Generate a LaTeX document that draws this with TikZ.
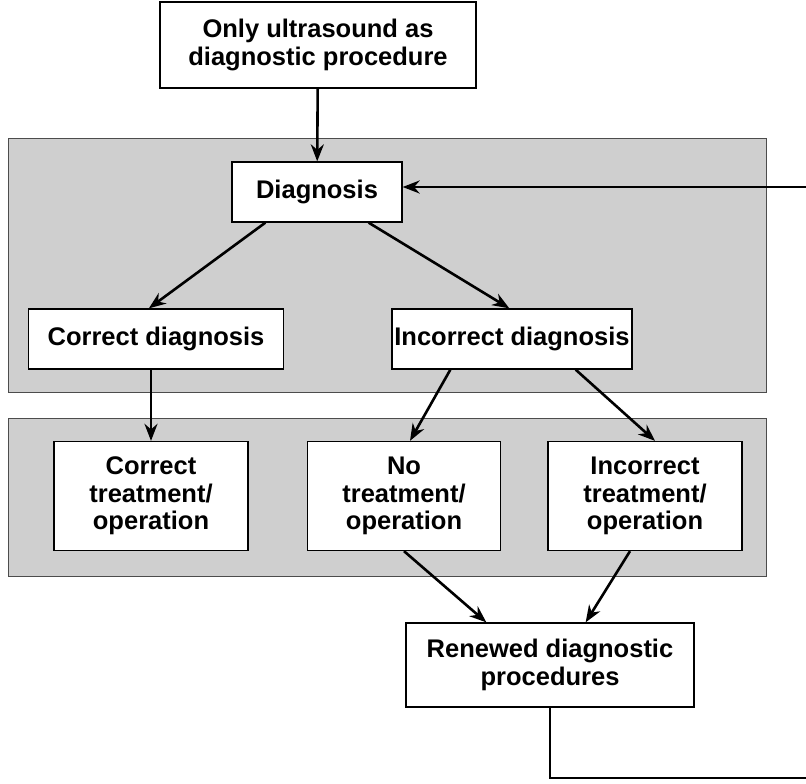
\documentclass[tikz,border=0pt]{standalone}
\usepackage{fontspec}
\setmainfont{Liberation Sans}
\usetikzlibrary{positioning,arrows.meta}

\tikzset{
    stepbox/.style={rectangle,draw,fill=white,line width=1.3pt,align=center,
        font=\bfseries\fontsize{25.5}{27.5}\selectfont,inner sep=0pt},
    band/.style={draw=black!70,fill=black!19,line width=0.9pt},
    flow/.style={-{Stealth[length=17pt,width=13pt]},line width=2.6pt}
}

\begin{document}
\begin{tikzpicture}[x=1pt,y=-1pt]
    \useasboundingbox (0,0) rectangle (806,784);

    % Shaded stages
    \draw[band] (8,138) rectangle (766,392);
    \draw[band] (8,418) rectangle (766,576);

    \node[stepbox,minimum width=316,minimum height=86] (ultrasound) at (318,45)
        {Only ultrasound as\\diagnostic procedure};
    \node[stepbox,minimum width=170,minimum height=60] (diagnosis) at (317,192) {Diagnosis};

    % Outcome of the diagnosis
    \node[stepbox,minimum width=255,minimum height=60] (correct_diag) at (156,339) {Correct diagnosis};
    \node[stepbox,minimum width=240,minimum height=60] (incorrect_diag) at (512,339) {Incorrect diagnosis};

    % Treatments
    \node[stepbox,minimum width=194,minimum height=109] (correct_treat) at (151,496)
        {Correct\\treatment/\\operation};
    \node[stepbox,minimum width=193,minimum height=109] (no_treat) at (404,496)
        {No\\treatment/\\operation};
    \node[stepbox,minimum width=194,minimum height=109] (incorrect_treat) at (645,496)
        {Incorrect\\treatment/\\operation};

    \node[stepbox,minimum width=288,minimum height=84] (renewed) at (550,665)
        {Renewed diagnostic\\procedures};

    \coordinate (loop_bottom) at (810,778);
    \coordinate (loop_top) at (810,187);

    \draw[flow] (ultrasound) -- (diagnosis);
    \draw[flow] ([xshift=34pt]diagnosis.south west) -- ([xshift=121pt]correct_diag.north west);
    \draw[flow] ([xshift=-34pt]diagnosis.south east) -- ([xshift=118pt]incorrect_diag.north west);
    \draw[flow] (correct_treat.north |- correct_diag.south) -- (correct_treat.north);
    \draw[flow] ([xshift=59pt]incorrect_diag.south west) -- ([xshift=6pt]no_treat.north);
    \draw[flow] ([xshift=-57pt]incorrect_diag.south east) -- ([xshift=10pt]incorrect_treat.north);
    \draw[flow] (no_treat.south) -- ([xshift=81pt]renewed.north west);
    \draw[flow] ([xshift=-15pt]incorrect_treat.south) -- ([xshift=-109pt]renewed.north east);

    % Back to the diagnosis
    \draw[flow] (renewed.south) |- (loop_bottom) -- (loop_top) -- (diagnosis.east |- loop_top);
\end{tikzpicture}
\end{document}
